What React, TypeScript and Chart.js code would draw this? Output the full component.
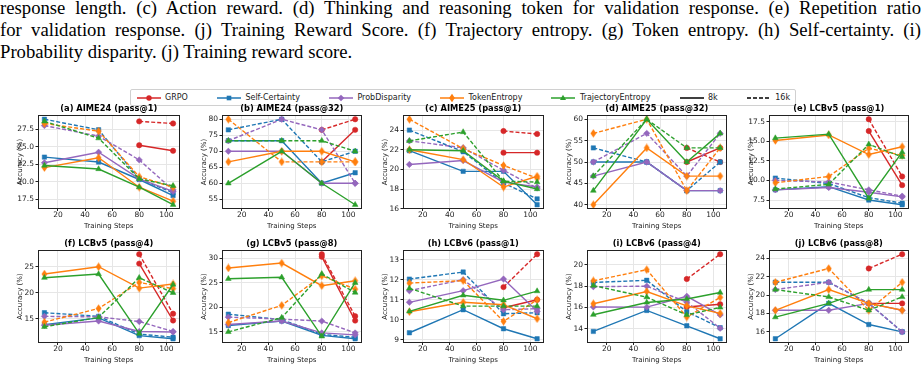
import React, { useEffect, useLayoutEffect, useRef } from 'react';
import { Chart, registerables } from 'chart.js';
Chart.register(...registerables);

// ---------------- data ----------------
const STEPS = [10, 50, 80, 105];
const X_TICK_LABELS = ['20', '40', '60', '80', '100'];
const METHODS = ['GRPO', 'Self-Certainty', 'ProbDisparity', 'TokenEntropy', 'TrajectoryEntropy'];
const BUDGETS = ['8k', '16k'];
const COLORS = ['#d62728', '#1f77b4', '#9467bd', '#ff7f0e', '#2ca02c'];
const MARKERS = ['o', 's', 'D', 'd', '^'];

const TITLES = [
  '(a) AIME24 (pass@1)', '(b) AIME24 (pass@32)', '(c) AIME25 (pass@1)', '(d) AIME25 (pass@32)', '(e) LCBv5 (pass@1)',
  '(f) LCBv5 (pass@4)', '(g) LCBv5 (pass@8)', '(h) LCBv6 (pass@1)', '(i) LCBv6 (pass@4)', '(j) LCBv6 (pass@8)',
];
const X_TITLE = 'Training Steps';
const Y_TITLE = 'Accuracy (%)';

const CAPTION_LINES = [
  'response length. (c) Action reward. (d) Thinking and reasoning token for validation response. (e) Repetition ratio',
  'for validation response. (j) Training Reward Score. (f) Trajectory entropy. (g) Token entropy. (h) Self-certainty. (i)',
  'Probability disparity. (j) Training reward score.',
];

// y tick labels per panel
const Y_TICKS_A = ['17.5', '20.0', '22.5', '25.0', '27.5'];
const Y_TICKS_B = ['55', '60', '65', '70', '75', '80'];
const Y_TICKS_C = ['16', '18', '20', '22', '24'];
const Y_TICKS_D = ['40', '45', '50', '55', '60'];
const Y_TICKS_E = ['7.5', '10.0', '12.5', '15.0', '17.5'];
const Y_TICKS_F = ['15', '20', '25'];
const Y_TICKS_G = ['15', '20', '25', '30'];
const Y_TICKS_H = ['9', '10', '11', '12', '13'];
const Y_TICKS_I = ['14', '16', '18', '20'];
const Y_TICKS_J = ['16', '18', '20', '22', '24'];

// rows: GRPO, Self-Certainty, ProbDisparity, TokenEntropy, TrajectoryEntropy ; cols: STEPS
const AIME24_P1_8K = [
  [null, null, 25.2, 24.4], [23.5, 22.8, 20.3, 18.0], [22.7, 24.2, 20.4, 18.6], [22.0, 23.4, 19.2, 17.2], [22.3, 21.8, 19.2, 16.7],
];
const AIME24_P1_16K = [
  [null, null, 28.6, 28.3], [28.9, 27.4, 20.4, 18.4], [28.0, 26.5, 23.1, 18.8], [28.3, 27.2, 20.7, 19.2], [28.6, 26.2, 20.4, 19.4],
];
const AIME24_P32_8K = [
  [null, null, 66.7, 76.7], [73.3, 73.3, 60.0, 63.3], [70.0, 70.0, 60.0, 60.0], [66.7, 70.0, 70.0, 66.7], [60.0, 70.0, 60.0, 53.3],
];
const AIME24_P32_16K = [
  [null, null, 76.7, 80.0], [76.7, 80.0, 66.7, 70.0], [73.3, 80.0, 76.7, 60.0], [80.0, 66.7, 66.7, 66.7], [73.3, 73.3, 73.3, 70.0],
];
const AIME25_P1_8K = [
  [null, null, 21.7, 21.7], [21.9, 19.8, 19.8, 16.4], [20.5, 20.9, 18.7, 18.2], [22.0, 21.0, 18.2, 19.3], [22.0, 21.9, 18.8, 18.0],
];
const AIME25_P1_16K = [
  [null, null, 23.9, 23.6], [24.0, 21.8, 18.6, 17.0], [22.9, 22.2, 19.9, 18.1], [25.1, 22.1, 20.4, 19.1], [22.9, 23.8, 18.8, 18.7],
];
const AIME25_P32_8K = [
  [null, null, 50.0, 53.3], [50.0, 50.0, 43.3, 43.3], [46.7, 50.0, 43.3, 43.3], [40.0, 53.3, 46.7, 46.7], [43.3, 60.0, 50.0, 56.7],
];
const AIME25_P32_16K = [
  [null, null, 53.3, 50.0], [53.3, 50.0, 43.3, 50.0], [50.0, 56.7, 46.7, 56.7], [56.7, 60.0, 43.3, 53.3], [46.7, 60.0, 53.3, 53.3],
];
const LCBV5_P1_8K = [
  [null, null, 16.3, 9.4], [8.8, 9.2, 7.5, 6.9], [8.8, 9.1, 8.5, 7.9], [15.1, 15.8, 13.3, 14.3], [15.4, 15.9, 7.7, 13.6],
];
const LCBV5_P1_16K = [
  [null, null, 17.8, 10.5], [10.3, 9.6, 7.8, 7.1], [10.0, 9.8, 8.8, 8.0], [9.7, 10.5, 14.1, 13.2], [8.9, 9.5, 14.6, 13.0],
];
const LCBV5_P4_8K = [
  [null, null, 25.6, 14.7], [13.9, 15.2, 11.8, 11.2], [13.8, 14.6, 12.6, 12.5], [23.6, 25.0, 20.9, 21.7], [22.9, 23.6, 12.2, 21.6],
];
const LCBV5_P4_16K = [
  [null, null, 27.4, 16.0], [16.2, 15.5, 12.1, 11.5], [15.5, 15.4, 14.5, 12.6], [14.4, 17.0, 22.0, 20.8], [13.5, 15.3, 22.9, 20.0],
];
const LCBV5_P8_8K = [
  [null, null, 30.3, 17.3], [16.3, 17.2, 14.3, 13.6], [16.5, 17.2, 14.8, 14.4], [28.0, 29.0, 24.4, 25.4], [25.8, 26.1, 14.1, 25.0],
];
const LCBV5_P8_16K = [
  [null, null, 30.8, 18.2], [18.6, 17.5, 14.5, 13.9], [18.0, 17.6, 17.2, 14.8], [16.9, 20.4, 26.4, 23.7], [15.0, 17.9, 26.8, 23.0],
];
const LCBV6_P1_8K = [
  [null, null, 10.6, 11.0], [9.35, 10.5, 9.55, 9.05], [10.87, 11.45, 12.03, 10.42], [10.4, 10.87, 10.75, 10.05], [10.42, 11.22, 10.97, 11.43],
];
const LCBV6_P1_16K = [
  [null, null, 11.63, 13.27], [12.03, 12.38, 10.3, 10.35], [11.45, 12.0, 10.5, 10.55], [11.83, 11.95, 9.92, 11.0], [11.57, 10.68, 10.68, 10.68],
];
const LCBV6_P4_8K = [
  [null, null, 16.05, 16.3], [13.75, 15.72, 14.28, 13.06], [16.05, 16.03, 17.05, 15.3], [16.35, 17.5, 16.15, 15.45], [15.32, 16.47, 16.8, 17.4],
];
const LCBV6_P4_16K = [
  [null, null, 18.67, 21.0], [18.35, 18.55, 15.6, 14.1], [17.95, 18.0, 16.5, 14.05], [18.5, 19.55, 15.1, 16.95], [18.05, 16.97, 15.3, 16.0],
];
const LCBV6_P8_8K = [
  [null, null, 19.1, 19.1], [15.25, 19.1, 16.8, 16.0], [18.35, 18.35, 19.1, 18.35], [18.35, 20.6, 19.1, 18.35], [17.6, 19.1, 20.6, 20.6],
];
const LCBV6_P8_16K = [
  [null, null, 22.9, 24.45], [21.4, 21.4, 19.1, 16.0], [20.6, 21.4, 19.1, 16.0], [21.4, 22.9, 18.35, 21.4], [20.6, 19.8, 18.35, 19.8],
];

const PANEL_TICKS = [Y_TICKS_A, Y_TICKS_B, Y_TICKS_C, Y_TICKS_D, Y_TICKS_E, Y_TICKS_F, Y_TICKS_G, Y_TICKS_H, Y_TICKS_I, Y_TICKS_J];
const PANEL_8K = [AIME24_P1_8K, AIME24_P32_8K, AIME25_P1_8K, AIME25_P32_8K, LCBV5_P1_8K, LCBV5_P4_8K, LCBV5_P8_8K, LCBV6_P1_8K, LCBV6_P4_8K, LCBV6_P8_8K];
const PANEL_16K = [AIME24_P1_16K, AIME24_P32_16K, AIME25_P1_16K, AIME25_P32_16K, LCBV5_P1_16K, LCBV5_P4_16K, LCBV5_P8_16K, LCBV6_P1_16K, LCBV6_P4_16K, LCBV6_P8_16K];

// ---------------- layout ----------------
const COL_LEFT = [38, 222, 403, 587, 769];
const COL_W = [142, 140, 141, 140, 140];
const ROW_TOP = [115, 250];
const ROW_H = [94, 93];
const Y_AXIS_W = 36;
const TITLE_BLOCK = 12;
const X_AXIS_H = 21;
const PAD_R = 4;

const FONT = "'DejaVu Sans', sans-serif";
const TEXT_COLOR = '#222';
const GRID_COLOR = '#e6e6e6';
const DASH = [4, 2];

function markerImage(kind: string, color: string): any {
  if (kind === 'o') return 'circle';
  if (kind === 's') return 'rect';
  if (kind === 'D') return 'rectRot';
  if (kind === '^') return 'triangle';
  const c = document.createElement('canvas');
  c.width = 7;
  c.height = 9;
  const g = c.getContext('2d')!;
  g.fillStyle = color;
  g.beginPath();
  g.moveTo(3.5, 0.3);
  g.lineTo(6.4, 4.5);
  g.lineTo(3.5, 8.7);
  g.lineTo(0.6, 4.5);
  g.closePath();
  g.fill();
  return c;
}
const MARKER_RADIUS: Record<string, number> = { o: 2.7, s: 3.1, D: 3.2, d: 3.2, '^': 3.3 };

const framePlugin = {
  id: 'frame',
  afterDraw(chart: any) {
    const { ctx, chartArea } = chart;
    const l = Math.round(chartArea.left) + 0.5;
    const t = Math.round(chartArea.top) + 0.5;
    const r = Math.round(chartArea.right) - 0.5;
    const b = Math.round(chartArea.bottom) - 0.5;
    ctx.save();
    ctx.strokeStyle = '#222';
    ctx.lineWidth = 1;
    ctx.strokeRect(l, t, r - l, b - t);
    ctx.restore();
  },
};

function Panel({ index }: { index: number }) {
  const ref = useRef<HTMLCanvasElement>(null);
  const row = Math.floor(index / 5);
  const col = index % 5;
  const plotW = COL_W[col];
  const plotH = ROW_H[row];
  const w = Y_AXIS_W + plotW + PAD_R;
  const h = TITLE_BLOCK + plotH + X_AXIS_H;
  const left = COL_LEFT[col] - Y_AXIS_W;
  const top = ROW_TOP[row] - TITLE_BLOCK;

  useEffect(() => {
    const d8 = PANEL_8K[index];
    const d16 = PANEL_16K[index];
    const tickLabels = PANEL_TICKS[index];
    const tickVals = tickLabels.map(Number);
    const all: number[] = [];
    [d8, d16].forEach((set) => set.forEach((r) => r.forEach((v) => { if (v !== null) all.push(v as number); })));
    const lo = Math.min(...all);
    const hi = Math.max(...all);
    const m = (hi - lo) * 0.05;
    const xlo = STEPS[0];
    const xhi = STEPS[STEPS.length - 1];
    const xm = (xhi - xlo) * 0.05;

    const datasets: any[] = [];
    METHODS.forEach((name, mi) => {
      [d8, d16].forEach((set, bi) => {
        const pts = STEPS.map((x, i) => ({ x, y: set[mi][i] })).filter((p) => p.y !== null);
        const style = markerImage(MARKERS[mi], COLORS[mi]);
        datasets.push({
          label: name + ' ' + BUDGETS[bi],
          data: pts,
          borderColor: COLORS[mi],
          backgroundColor: COLORS[mi],
          borderWidth: 1.4,
          borderDash: bi === 1 ? DASH : [],
          pointStyle: style,
          pointRadius: MARKER_RADIUS[MARKERS[mi]],
          pointBackgroundColor: COLORS[mi],
          pointBorderColor: COLORS[mi],
          pointBorderWidth: 0.5,
          fill: false,
          tension: 0,
        });
      });
    });
    datasets.reverse();

    const tickFont = { family: FONT, size: 7.5 };
    const titleFont = { family: FONT, size: 7 };
    const chart = new Chart(ref.current!, {
      type: 'line',
      data: { datasets },
      options: {
        animation: false,
        responsive: false,
        maintainAspectRatio: false,
        events: [],
        layout: { padding: { left: 0, right: PAD_R, top: 0, bottom: 0 } },
        plugins: {
          legend: { display: false },
          tooltip: { enabled: false },
          title: {
            display: true,
            fullSize: false,
            text: TITLES[index],
            color: '#000',
            font: { family: FONT, size: 8.3, weight: 'bold', lineHeight: 1.2 },
            padding: { top: 1.02, bottom: 1.02 },
          },
        },
        scales: {
          x: {
            type: 'linear',
            min: xlo - xm,
            max: xhi + xm,
            afterBuildTicks: (s: any) => { s.ticks = X_TICK_LABELS.map((t) => ({ value: Number(t) })); },
            afterFit: (s: any) => { s.height = X_AXIS_H; },
            ticks: { font: tickFont, color: TEXT_COLOR, padding: 0, maxRotation: 0, autoSkip: false, callback: (v: any) => String(v) },
            grid: { color: GRID_COLOR, tickLength: 2, tickColor: '#222', lineWidth: 1 },
            border: { display: false },
            title: { display: true, text: X_TITLE, font: titleFont, color: TEXT_COLOR, padding: { top: 0, bottom: 0 } },
          },
          y: {
            type: 'linear',
            min: lo - m,
            max: hi + m,
            afterBuildTicks: (s: any) => { s.ticks = tickVals.map((v) => ({ value: v })); },
            afterFit: (s: any) => { s.width = Y_AXIS_W; },
            ticks: {
              font: tickFont, color: TEXT_COLOR, padding: 1.5, autoSkip: false,
              callback: (v: any) => { const k = tickVals.indexOf(Number(v)); return k >= 0 ? tickLabels[k] : ''; },
            },
            grid: { color: GRID_COLOR, tickLength: 2.5, tickColor: '#222', lineWidth: 1 },
            border: { display: false },
            title: { display: true, text: Y_TITLE, font: titleFont, color: TEXT_COLOR, padding: { top: 13.8, bottom: 0 } },
          },
        },
      } as any,
      plugins: [framePlugin],
    });
    return () => chart.destroy();
  }, [index]);

  return (
    <canvas
      ref={ref}
      width={w}
      height={h}
      style={{ position: 'absolute', left, top, width: w, height: h }}
    />
  );
}

function CaptionLine({ text, index, justify }: { text: string; index: number; justify: boolean }) {
  const ref = useRef<HTMLSpanElement>(null);
  useLayoutEffect(() => {
    const el = ref.current;
    if (!el || !justify) return;
    el.style.wordSpacing = '0px';
    const width = el.getBoundingClientRect().width;
    const spaces = (text.match(/ /g) || []).length;
    if (spaces > 0) el.style.wordSpacing = (921 - width) / spaces + 'px';
  }, [text, justify]);
  return (
    <span
      ref={ref}
      style={{
        position: 'absolute',
        left: 0,
        top: -3.3 + index * 22,
        whiteSpace: 'pre',
        fontFamily: "'Liberation Serif', 'Times New Roman', serif",
        fontSize: '18.7px',
        lineHeight: '22px',
        color: '#000',
      }}
    >
      {text}
    </span>
  );
}

function LegendHandle({ color, marker, dashed }: { color: string; marker: string | null; dashed: boolean }) {
  const cx = 12;
  const cy = 5;
  let mk: any = null;
  if (marker === 'o') mk = <circle cx={cx} cy={cy} r={2.7} fill={color} />;
  if (marker === 's') mk = <rect x={cx - 2.3} y={cy - 2.3} width={4.6} height={4.6} fill={color} />;
  if (marker === 'D') mk = <polygon points={`${cx},${cy - 3.3} ${cx + 3.3},${cy} ${cx},${cy + 3.3} ${cx - 3.3},${cy}`} fill={color} />;
  if (marker === 'd') mk = <polygon points={`${cx},${cy - 4.2} ${cx + 2.9},${cy} ${cx},${cy + 4.2} ${cx - 2.9},${cy}`} fill={color} />;
  if (marker === '^') mk = <polygon points={`${cx},${cy - 3.3} ${cx + 3},${cy + 1.9} ${cx - 3},${cy + 1.9}`} fill={color} />;
  return (
    <svg width={24} height={10} style={{ display: 'block', flex: 'none' }}>
      <line x1={0} y1={cy} x2={24} y2={cy} stroke={color} strokeWidth={1.5} strokeDasharray={dashed ? '4 2' : undefined} />
      {mk}
    </svg>
  );
}

function Legend() {
  const items: { label: string; color: string; marker: string | null; dashed: boolean }[] = [];
  METHODS.forEach((m, i) => items.push({ label: m, color: COLORS[i], marker: MARKERS[i], dashed: false }));
  BUDGETS.forEach((b, i) => items.push({ label: b, color: '#000', marker: null, dashed: i === 1 }));
  return (
    <div
      style={{
        position: 'absolute',
        left: 130,
        top: 89,
        height: 15,
        display: 'flex',
        alignItems: 'center',
        padding: '0 5px 0 5.5px',
        border: '1px solid #d0d0d0',
        borderRadius: 2,
        background: '#fff',
        fontFamily: FONT,
        fontSize: '8px',
        color: TEXT_COLOR,
        whiteSpace: 'nowrap',
      }}
    >
      {items.map((it, i) => (
        <div key={it.label} style={{ display: 'flex', alignItems: 'center', marginRight: i === items.length - 1 ? 0 : 29 }}>
          <LegendHandle color={it.color} marker={it.marker} dashed={it.dashed} />
          <span style={{ marginLeft: 4.5 }}>{it.label}</span>
        </div>
      ))}
    </div>
  );
}

export default function App() {
  return (
    <div style={{ position: 'absolute', left: 0, top: 0, width: 921, height: 370, overflow: 'hidden', background: '#fff' }}>
      {CAPTION_LINES.map((t, i) => (
        <CaptionLine key={i} text={t} index={i} justify={i < 2} />
      ))}
      <Legend />
      {TITLES.map((_, i) => (
        <Panel key={i} index={i} />
      ))}
    </div>
  );
}
